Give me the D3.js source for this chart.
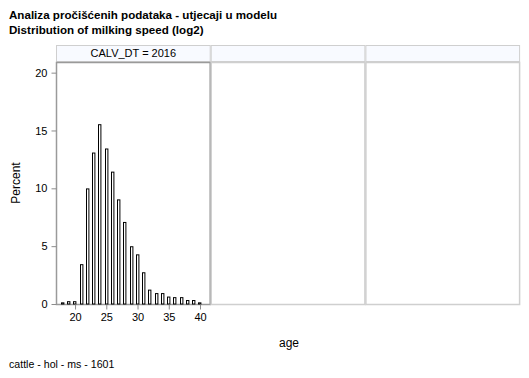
<!DOCTYPE html>
<html>
<head>
<meta charset="utf-8">
<script src="https://cdn.jsdelivr.net/npm/d3@7"></script>
<style>
body { margin: 0; background: #fff; }
text { font-family: "Liberation Sans", Arial, sans-serif; fill: #000; }
</style>
</head>
<body>
<div id="chart"></div>
<script>
var width = 529;
var height = 378;

// data
var ages = [18, 19, 20, 21, 22, 23, 24, 25, 26, 27, 28, 29, 30, 31, 32, 33, 34, 35, 36, 37, 38, 39, 40];
var percents = [0.1, 0.2, 0.2, 3.4, 9.95, 13.05, 15.5, 13.4, 11.4, 9.0, 7.05, 4.95, 4.25, 2.7, 1.2, 0.9, 0.9, 0.6, 0.55, 0.55, 0.3, 0.3, 0.1];
var panels = ["CALV_DT = 2016", "", ""];
var xTicks = [20, 25, 30, 35, 40];
var yTicks = [0, 5, 10, 15, 20];

var svg = d3.select("#chart").append("svg")
    .attr("width", width)
    .attr("height", height);

var panelLeft = 56, panelW = 154.7, headTop = 45, headH = 16;
var plotTop = 62, plotBottom = 304;

var xScale = d3.scaleLinear().domain([16.95, 41.6]).range([panelLeft, panelLeft + panelW - 0.7]);
var yScale = d3.scaleLinear().domain([0, 20.92]).range([plotBottom, plotTop]);

// titles
svg.append("text").attr("x", 9).attr("y", 19)
    .style("font-size", "11.6px").style("font-weight", "bold")
    .text("Analiza pročišćenih podataka - utjecaji u modelu");
svg.append("text").attr("x", 9).attr("y", 34)
    .style("font-size", "11.6px").style("font-weight", "bold")
    .text("Distribution of milking speed (log2)");

// panels
panels.forEach(function(p, i) {
    var x0 = panelLeft + i * panelW;
    svg.append("rect")
        .attr("x", x0 + 0.5).attr("y", headTop + 0.5)
        .attr("width", panelW - 1).attr("height", headH)
        .attr("fill", "#f8faff").attr("stroke", "#cfcfcf");
    svg.append("rect")
        .attr("x", x0 + 0.5).attr("y", plotTop + 0.5)
        .attr("width", panelW - 1).attr("height", plotBottom - plotTop)
        .attr("fill", "none")
        .attr("stroke", i == 0 ? "#9a9a9a" : "#cfcfcf")
        .attr("stroke-width", 1.5);
    if (p) {
        svg.append("text")
            .attr("x", x0 + panelW / 2).attr("y", headTop + 12)
            .attr("text-anchor", "middle")
            .style("font-size", "11px")
            .text(p);
    }
});

// bars
var bw = 3.4;
svg.selectAll("rect.bar")
    .data(ages)
    .enter()
    .append("rect")
    .attr("class", "bar")
    .attr("x", function(d) { return Math.round(xScale(d) - bw / 2) + 0.5; })
    .attr("y", function(d, i) { return yScale(percents[i]); })
    .attr("width", bw - 1)
    .attr("height", function(d, i) { return plotBottom - yScale(percents[i]); })
    .attr("fill", "#fff")
    .attr("stroke", "#000")
    .attr("stroke-width", 1);

// axes
var xAxis = d3.axisBottom(xScale).tickValues(xTicks).tickSize(5).tickSizeOuter(0).tickPadding(4);
var yAxis = d3.axisLeft(yScale).tickValues(yTicks).tickSize(5).tickSizeOuter(0).tickPadding(4);

var gx = svg.append("g")
    .attr("transform", "translate(0," + (plotBottom + 0.5) + ")")
    .call(xAxis);
gx.select(".domain").remove();
gx.selectAll("line").attr("stroke", "#8c8c8c");
gx.selectAll("text").style("font-size", "11px").attr("fill", "#000");

var gy = svg.append("g")
    .attr("transform", "translate(" + (panelLeft + 0.5) + ",0)")
    .call(yAxis);
gy.select(".domain").remove();
gy.selectAll("line").attr("stroke", "#8c8c8c");
gy.selectAll("text").style("font-size", "11px").attr("fill", "#000");

// axis labels
svg.append("text")
    .attr("text-anchor", "middle")
    .attr("x", 289).attr("y", 347)
    .style("font-size", "12px")
    .text("age");

svg.append("text")
    .attr("text-anchor", "middle")
    .attr("transform", "translate(20," + 183 + ") rotate(-90)")
    .style("font-size", "12px")
    .text("Percent");

svg.append("text")
    .attr("x", 9).attr("y", 368)
    .style("font-size", "10.6px")
    .text("cattle - hol - ms - 1601");
</script>
</body>
</html>
